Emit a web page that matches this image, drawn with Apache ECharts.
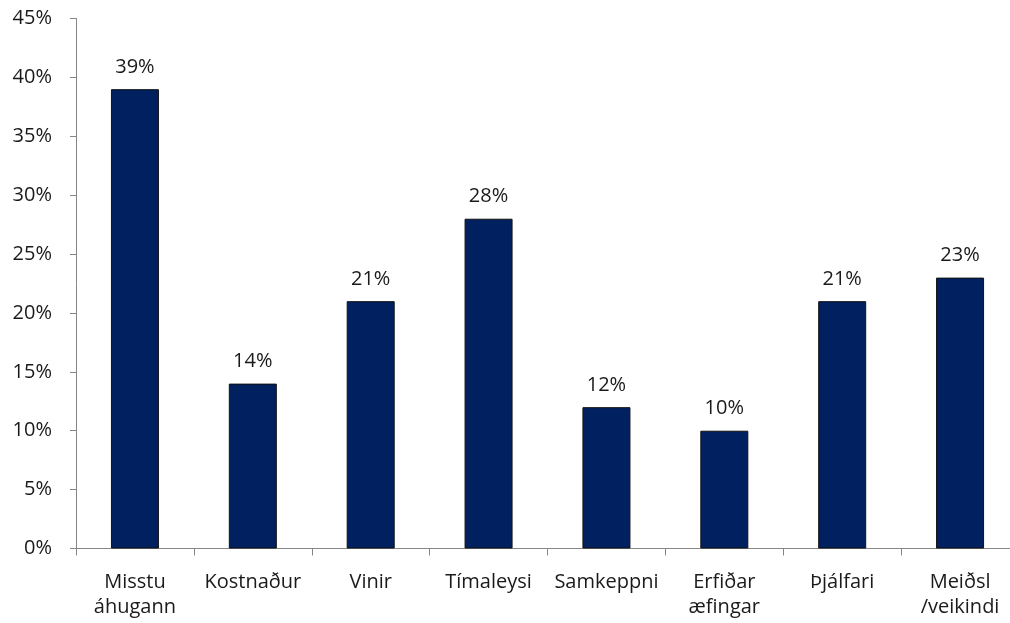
<!DOCTYPE html>
<html>
<head>
<meta charset="utf-8">
<script src="https://cdn.jsdelivr.net/npm/echarts@6/dist/echarts.min.js"></script>
<style>
  html, body { margin: 0; padding: 0; background: #fff; overflow: hidden; }
  #chart { width: 1019px; height: 623px; }
</style>
</head>
<body>
<div id="chart"></div>
<script>
const categories = ['Misstu\náhugann', 'Kostnaður', 'Vinir', 'Tímaleysi', 'Samkeppni', 'Erfiðar\næfingar', 'Þjálfari', 'Meiðsl\n/veikindi'];
const values = [39, 14, 21, 28, 12, 10, 21, 23];
const yTicks = [0, 5, 10, 15, 20, 25, 30, 35, 40, 45];

const font = '"Open Sans", "Noto Sans", sans-serif';
const myChart = echarts.init(document.getElementById('chart'));

// plot area runs slightly past the right edge of the window, like the original
const option = {
    animation: false,
    grid: {
        left: 76,
        top: 18.5,
        right: 0,
        bottom: 74.5,
        containLabel: false,
    },
    xAxis: {
        type: 'category',
        data: categories,
        axisLine: { lineStyle: { color: '#868686', width: 1 } },
        axisTick: { show: true, length: 7, lineStyle: { color: '#868686' } },
        axisLabel: {
            interval: 0,
            margin: 21,
            color: '#1a1a1a',
            fontFamily: font,
            fontSize: 20,
            lineHeight: 25,
        },
    },
    yAxis: {
        type: 'value',
        min: yTicks[0],
        max: yTicks[yTicks.length - 1],
        interval: 5,
        axisLine: { show: true, lineStyle: { color: '#868686', width: 1 } },
        axisTick: { show: true, length: 6, lineStyle: { color: '#868686' } },
        splitLine: { show: false },
        axisLabel: {
            margin: 24,
            color: '#1a1a1a',
            fontFamily: font,
            fontSize: 20,
            formatter: (v) => v + '%',
        },
    },
    series: [
        {
            type: 'bar',
            data: values,
            barWidth: 48,
            itemStyle: {
                color: '#002060',
                borderColor: '#111',
                borderWidth: 1,
            },
            label: {
                show: true,
                position: 'top',
                distance: 12,
                color: '#1a1a1a',
                fontFamily: font,
                fontSize: 20,
                formatter: (p) => p.value + '%',
            },
        },
    ],
};

myChart.setOption(option);
</script>
</body>
</html>
